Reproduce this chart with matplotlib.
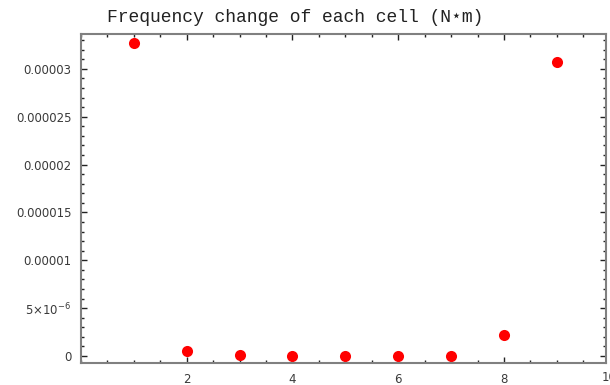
import matplotlib.pyplot as plt
from matplotlib.ticker import FixedLocator, MultipleLocator, FixedFormatter

# frequency change per cell (N*m)
cells = [1, 2, 3, 4, 5, 6, 7, 8, 9]
freq_change = [3.27e-5, 5.0e-7, 1.0e-7, 0.0, 0.0, 0.0, 0.0, 2.2e-6, 3.07e-5]

ytick_vals = [0, 5e-6, 1e-5, 1.5e-5, 2e-5, 2.5e-5, 3e-5]
ytick_labels = ['0', '5×10$^{-6}$', '0.00001', '0.000015', '0.00002', '0.000025', '0.00003']
xtick_vals = [2, 4, 6, 8]
xtick_labels = ['2', '4', '6', '8']

frame_col = '#808080'
text_col = '#3a3a3a'

fig = plt.figure(figsize=(6.1, 3.85), dpi=100)
ax = fig.add_axes([81 / 610, 22 / 385, 525 / 610, 329 / 385])

ax.plot(cells, freq_change, 'o', color='red', markersize=8, markeredgewidth=0, clip_on=False)

ax.set_xlim(0, 9.93)
ax.set_ylim(-0.73e-6, 33.65e-6)

ax.yaxis.set_major_locator(FixedLocator(ytick_vals))
ax.yaxis.set_major_formatter(FixedFormatter(ytick_labels))
ax.yaxis.set_minor_locator(MultipleLocator(1e-6))
ax.xaxis.set_major_locator(FixedLocator(xtick_vals))
ax.xaxis.set_major_formatter(FixedFormatter(xtick_labels))
ax.xaxis.set_minor_locator(MultipleLocator(0.5))

ax.tick_params(which='both', direction='in', top=True, right=True,
               color='#222222', width=1, labelsize=8.5, labelcolor=text_col)
ax.tick_params(which='major', length=4)
ax.tick_params(axis='y', which='major', pad=7)
ax.tick_params(axis='x', which='major', pad=7.5)
ax.tick_params(which='minor', length=2.5)

# last x label sits past the frame edge
ax.text(9.98, -0.025, '10', transform=ax.get_xaxis_transform(), ha='center', va='top',
        fontsize=8.5, color=text_col, clip_on=False)

for s in ax.spines.values():
    s.set_color(frame_col)
    s.set_linewidth(1.5)

fig.text(0.484, 0.955, 'Frequency change of each cell (N⋆m)', ha='center', va='center',
         family=['Liberation Mono', 'DejaVu Sans Mono'], fontsize=13, color='#222222')

fig.savefig('out.png', dpi=100)
